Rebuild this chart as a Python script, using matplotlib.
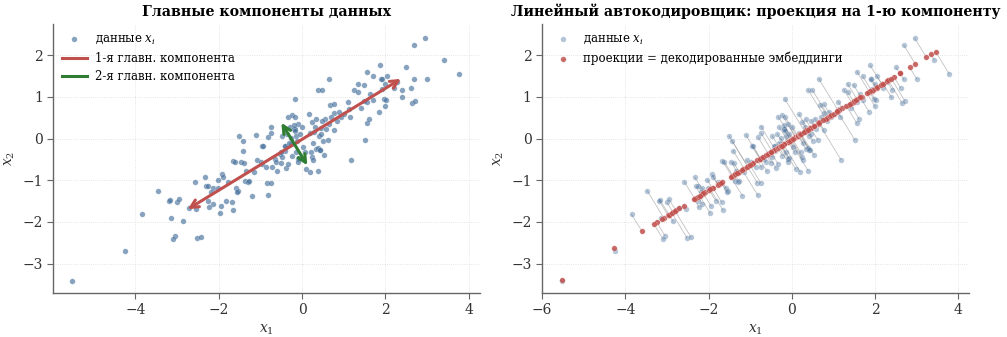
import matplotlib
matplotlib.use("Agg")
import matplotlib.pyplot as plt
import numpy as np

# точки данных
X1 = [-5.52, -4.25, -3.85, -3.47, -3.19, -3.17, -3.00, -2.95, -3.14, -2.85,
      -3.05, -3.09, -2.52, -2.42, -2.71, -2.55, -2.58, -2.33, -2.31, -2.25,
      -2.15, -2.01, -2.18, -2.25, -2.15, -2.23, -2.03, -1.92, -1.89, -1.94,
      -1.97, -1.83, -1.77, -1.69, -1.66, -1.59, -1.54, -1.56, -1.67, -1.62,
      -1.51, -1.43, -1.41, -1.46, -1.40, -1.37, -1.30, -1.19, -1.15, -1.10,
      -0.96, -0.94, -1.08, -0.98, -0.95, -0.87, -0.83, -0.82, -0.81, -1.27,
      -0.75, -1.35, -0.74, -0.74, -0.73, -0.66, -0.60, -0.63, -0.53, -0.50,
      -0.47, -0.47, -0.42, -0.40, -0.41, -0.38, -0.33, -0.33, -0.30, -0.26,
      -0.23, -0.17, -0.23, -0.20, -0.18, -0.17, -0.17, -0.14, -0.11, -0.10,
      -0.09, -0.07, -0.09, -0.06, 0.01, 0.03, 0.07, 0.09, 0.17, 0.18,
      0.20, 0.21, 0.25, 0.25, 0.26, 0.27, 0.31, 0.33, 0.34, 0.38,
      0.39, 0.49, 0.39, 0.41, 0.42, 0.44, 0.46, 0.50, 0.53, 0.55,
      0.57, 0.62, 0.65, 0.65, 0.68, 0.77, 0.77, 0.77, 0.84, 0.93,
      0.89, 1.01, 1.11, 1.13, 1.16, 1.18, 1.25, 1.34, 1.34, 1.41,
      1.48, 1.48, 1.51, 1.56, 1.56, 1.61, 1.56, 1.64, 1.70, 1.70,
      1.85, 1.88, 1.89, 1.91, 1.93, 1.97, 2.01, 1.99, 1.99, 2.04,
      2.20, 2.29, 2.39, 2.41, 2.50, 2.61, 2.65, 2.71, 2.69, 2.69,
      2.95, 3.00, 3.42, 3.78, -0.35, -0.27, -0.31, -0.19, 0.47, 0.29,
      0.45, 0.70, -0.15, -0.50]
X2 = [-3.42, -2.69, -1.82, -1.26, -1.49, -1.47, -1.53, -1.46, -1.91, -1.99,
      -2.33, -2.42, -2.38, -2.37, -1.66, -1.69, -1.04, -0.93, -1.15, -1.15,
      -1.19, -1.18, -1.29, -1.49, -1.58, -1.65, -0.99, -0.86, -0.93, -1.62,
      -1.78, -1.49, -1.05, -1.52, -1.71, -1.19, -1.25, -1.29, -0.53, -0.56,
      0.06, -0.06, -0.29, -0.56, -0.58, -1.01, -1.04, -1.37, -0.79, 0.08,
      -0.18, -0.17, -0.52, -0.57, -0.62, -0.67, -1.06, -1.36, 0.03, -1.02,
      -1.06, -0.78, 0.29, 0.13, -0.69, -0.49, -0.78, -0.56, -0.37, -0.58,
      0.06, -0.45, -0.18, -0.17, -0.29, -0.71, -0.61, 0.53, 0.27, -0.14,
      0.56, 0.53, -0.41, 0.23, 0.22, 0.19, 0.95, 0.07, -0.05, 0.34,
      -0.49, -0.47, -0.57, 0.11, 0.29, -0.21, -0.33, -0.73, 0.58, 0.14,
      -0.80, -0.33, 0.39, -0.45, -0.51, -0.11, 0.29, 0.46, -0.25, -0.22,
      1.17, 1.17, -0.77, 0.07, -0.27, -0.28, 0.26, -0.05, -0.39, 0.48,
      0.23, -0.03, 1.43, 0.34, 0.81, 0.82, 0.62, 0.21, 0.43, 0.51,
      0.65, 0.59, 0.89, 0.70, 0.53, -0.51, 1.17, 1.31, 1.12, 0.74,
      1.29, 0.91, -0.03, 1.61, 0.37, 0.48, 0.87, 1.06, 1.50, 0.93,
      0.65, 1.76, 1.42, 1.43, 1.19, 0.94, 0.93, 1.31, 0.78, 1.51,
      1.22, 1.36, 0.99, 1.17, 1.71, 1.22, 0.85, 0.91, 1.42, 2.24,
      2.41, 1.43, 1.89, 1.55, 0.11, 0.01, -0.10, 0.33, 0.43, 0.15,
      0.11, 0.51, -0.33, -0.31]

BLUE = "#46709c"
RED = "#c0504d"
GREEN = "#2e7d32"
ARROW_SCALE = 1.57

plt.rcParams["font.family"] = ["DejaVu Serif"]
plt.rcParams["mathtext.fontset"] = "dejavuserif"

X = np.column_stack([X1, X2])
mu = X.mean(axis=0)
cov = np.cov((X - mu).T)
evals, evecs = np.linalg.eigh(cov)
order = np.argsort(evals)[::-1]
evals, evecs = evals[order], evecs[:, order]
v1, v2 = evecs[:, 0], evecs[:, 1]
if v1[0] < 0:
    v1 = -v1
t = (X - mu) @ v1
proj = mu + np.outer(t, v1)

fig = plt.figure(figsize=(10.07, 3.37), dpi=100)
ax1 = fig.add_axes([0.0523, 0.1315, 0.425, 0.797])
ax2 = fig.add_axes([0.5379, 0.1315, 0.425, 0.797])


def style(ax, xlim):
    ax.set_xlim(*xlim)
    ax.set_ylim(-3.70, 2.75)
    ax.set_aspect("equal", adjustable="box")
    ax.grid(True, linestyle=":", color="#dddddd", linewidth=0.6)
    ax.set_axisbelow(True)
    for s in ["top", "right"]:
        ax.spines[s].set_visible(False)
    for s in ["left", "bottom"]:
        ax.spines[s].set_color("#666666")
        ax.spines[s].set_linewidth(1.0)
    ax.tick_params(colors="#333333", labelsize=10, length=4, color="#666666")
    ax.set_xticks([t for t in [-6, -4, -2, 0, 2, 4] if t >= xlim[0]])
    ax.set_yticks([-3, -2, -1, 0, 1, 2])
    ax.set_xlabel("$x_1$", fontsize=10, color="#333333")
    ax.set_ylabel("$x_2$", fontsize=10, color="#333333")


def legend(ax):
    ax.legend(loc="upper left", frameon=False, fontsize=8.5, handlelength=2.1,
              handletextpad=0.7, borderaxespad=0.3, labelspacing=0.45)


# левая панель: данные + главные компоненты
ax1.scatter(X[:, 0], X[:, 1], s=16, color=BLUE, alpha=0.65,
            edgecolors="white", linewidths=0.2, label="данные $x_i$", zorder=2)
for v, lam, c in [(v1, evals[0], RED), (v2, evals[1], GREEN)]:
    d = ARROW_SCALE * np.sqrt(lam) * v
    ax1.annotate("", xy=mu + d, xytext=mu - d,
                 arrowprops=dict(arrowstyle="<->", color=c, lw=2.2,
                                 mutation_scale=14, shrinkA=0, shrinkB=0),
                 zorder=3)
ax1.plot([], [], color=RED, lw=2.2, label="1-я главн. компонента")
ax1.plot([], [], color=GREEN, lw=2.2, label="2-я главн. компонента")
style(ax1, (-5.97, 4.27))
legend(ax1)
ax1.set_title("Главные компоненты данных", fontsize=10.2, fontweight="bold")

# правая панель: проекции на 1-ю компоненту
for p, q in zip(X, proj):
    ax2.plot([p[0], q[0]], [p[1], q[1]], color="#999999", lw=0.6,
             alpha=0.6, zorder=1)
ax2.scatter(X[:, 0], X[:, 1], s=16, color=BLUE, alpha=0.4,
            edgecolors="white", linewidths=0.2, label="данные $x_i$", zorder=2)
ax2.scatter(proj[:, 0], proj[:, 1], s=16, color=RED, alpha=0.85,
            edgecolors="white", linewidths=0.2,
            label="проекции = декодированные эмбеддинги", zorder=3)
style(ax2, (-6.0, 4.26))
legend(ax2)
ax2.set_title("Линейный автокодировщик: проекция на 1-ю компоненту",
              fontsize=10.2, fontweight="bold")

fig.savefig("out.png", dpi=100)
